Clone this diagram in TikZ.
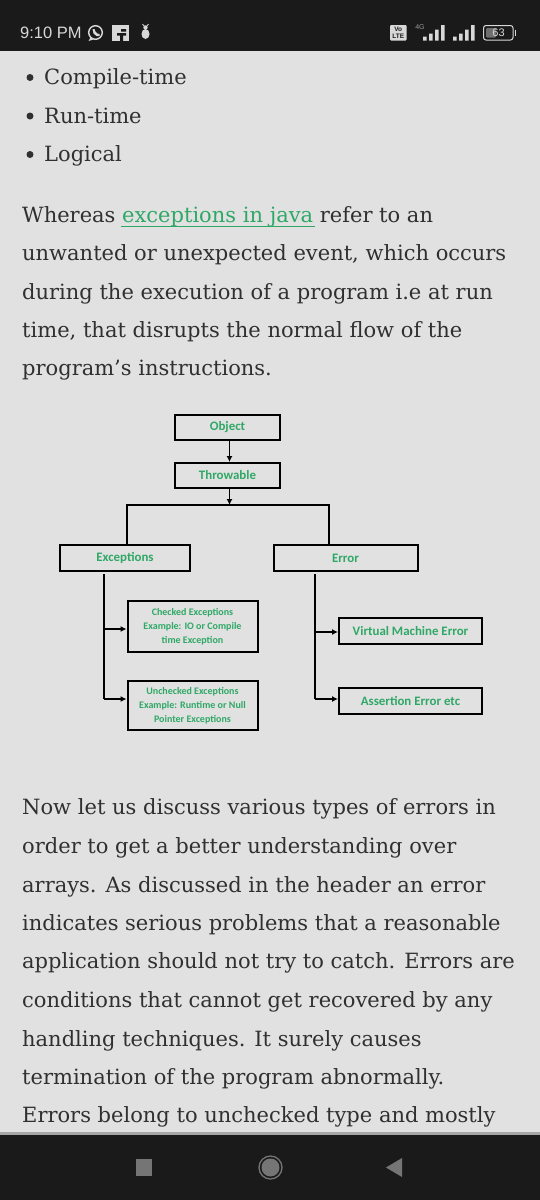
\documentclass[tikz,border=0pt]{standalone}
\usepackage{fontspec}
\usetikzlibrary{arrows.meta}
\setmainfont{DejaVu Serif}
\newfontfamily\barfont{Liberation Sans}
\newfontfamily\boxfont{Carlito}
\definecolor{pagebg}{HTML}{E1E1E1}
\definecolor{barbg}{HTML}{1A1A1A}
\definecolor{bodycol}{HTML}{303030}
\definecolor{gfg}{HTML}{2FA866}
\definecolor{barcol}{HTML}{D8D8D8}
\definecolor{navcol}{HTML}{757575}
\tikzset{
  bodyline/.style={anchor=base west,inner sep=0pt,text=bodycol,font=\fontsize{21}{24}\selectfont},
  classbox/.style={draw=black,line width=2pt,inner sep=0pt,align=center,text=gfg,font=\boxfont\bfseries\fontsize{12.9}{14}\selectfont},
  smallbox/.style={classbox,font=\boxfont\bfseries\fontsize{10}{14}\selectfont},
  link/.style={line width=2pt},
  arrowlink/.style={line width=1.2pt,-{Latex[length=6pt,width=6pt]}},
  brancharrow/.style={line width=2pt,-{Latex[length=6pt,width=6pt]}}
}
\begin{document}
\begin{tikzpicture}[x=1pt,y=-1pt]
      \useasboundingbox (0,0) rectangle (540,1200);
      \fill[pagebg] (0,0) rectangle (540,1200);
      % status bar
      \fill[barbg] (0,0) rectangle (540,51);
      \node[anchor=base west,inner sep=0pt,text=barcol,font=\barfont\fontsize{16.5}{18}\selectfont] (clock) at (20,38) {9:10 PM};
      \draw[barcol,line width=1.4pt] (95.5,32.5) circle (6.8);
      \fill[barcol] (90.5,37.5) -- (88.5,41) -- (93.5,39.5) -- cycle;
      \fill[barcol] (92.5,29) -- (94.5,29) -- (95.5,31.5) -- (97.5,33.5) -- (99.5,34) -- (99.5,36) -- (96.5,36) -- (93.5,33.5) -- cycle;
      \fill[barcol] (112,25) rectangle (129,41);
      \fill[barbg] (120,33) rectangle (123,41) (117,33) rectangle (126,35.5) (121,29) rectangle (126,31.5);
      \fill[barcol] (145.5,34) ellipse (4 and 5);
      \fill[barcol] (145.5,27.5) circle (2.2);
      \draw[barcol,line width=0.8pt] (142.5,24) -- (144.5,26.5) (148.5,24) -- (146.5,26.5);
      \fill[barcol,rounded corners=1pt] (390,25) rectangle (406.5,40.5);
      \node[inner sep=0pt,text=barbg,align=center,font=\barfont\bfseries\fontsize{6.5}{7}\selectfont] (volte) at (398.2,32.8) {Vo\\LTE};
      \node[inner sep=0pt,text=barcol!70!black,font=\barfont\fontsize{7}{7}\selectfont] (gen) at (420,27) {4G};
      \fill[barcol] (423,36.5) rectangle (426.5,40.5) (429,33.5) rectangle (432.5,40.5) (435,29.5) rectangle (438.5,40.5) (441,25) rectangle (444.5,40.5);
      \fill[barcol] (453,36.5) rectangle (456.5,40.5) (459,33.5) rectangle (462.5,40.5) (465,29.5) rectangle (468.5,40.5) (471,25) rectangle (474.5,40.5);
      \draw[barcol,rounded corners=2.5pt,line width=1pt] (483.5,25.5) rectangle (513,40);
      \fill[barcol!45!barbg,rounded corners=1pt] (486,28) rectangle (496,37.5);
      \fill[barcol] (514.5,29.5) rectangle (516,36);
      \node[inner sep=0pt,text=barcol,font=\barfont\fontsize{11}{12}\selectfont] (battery) at (498.5,33) {63};
      % bullets
      \fill[bodycol] (30,77.5) circle (3.5);
      \fill[bodycol] (30,116) circle (3.5);
      \fill[bodycol] (30,154.5) circle (3.5);
      \node[bodyline] (bulletA) at (44,84) {Compile-time};
      \node[bodyline] (bulletB) at (44,123) {Run-time};
      \node[bodyline] (bulletC) at (44,161) {Logical};
      % first paragraph
      \node[bodyline] (paraA) at (22,222) {Whereas \textcolor{gfg}{exceptions in java} refer to an};
      \draw[gfg,line width=1pt] (121,226) -- (315,226);
      \node[bodyline] (paraB) at (22,260) {unwanted or unexpected event, which occurs};
      \node[bodyline] (paraC) at (22,299) {during the execution of a program i.e at run};
      \node[bodyline] (paraD) at (22,337) {time, that disrupts the normal flow of the};
      \node[bodyline] (paraE) at (22,375) {program’s instructions.};
      % hierarchy
      \node[classbox,minimum width=105,minimum height=25] (object) at (227.5,427.5) {Object};
      \node[classbox,minimum width=105,minimum height=25] (throwable) at (227.5,475.5) {Throwable};
      \node[classbox,minimum width=130,minimum height=26] (exceptions) at (125,558) {Exceptions};
      \node[classbox,minimum width=144,minimum height=26] (error) at (345.5,558) {Error};
      \node[smallbox,minimum width=130,minimum height=51] (checked) at (192.5,626.5) {Checked Exceptions\\Example: IO or Compile\\time Exception};
      \node[smallbox,minimum width=130,minimum height=49] (unchecked) at (192.5,705.5) {Unchecked Exceptions\\Example: Runtime or Null\\Pointer Exceptions};
      \node[classbox,minimum width=143,minimum height=26] (vmerror) at (410.5,631) {Virtual Machine Error};
      \node[classbox,minimum width=143,minimum height=26] (assertion) at (410.5,701) {Assertion Error etc};
      \coordinate (busleft) at (127,505);
      \coordinate (busright) at (329,505);
      \coordinate (busmid) at (229.5,505);
      \coordinate (trunkleft) at (103.5,574);
      \coordinate (trunkright) at (314.5,574);
      \draw[arrowlink] (object.south -| busmid) -- (throwable.north -| busmid);
      \draw[arrowlink] (throwable.south -| busmid) -- (busmid);
      \draw[link] (exceptions.north -| busleft) -- (busleft) -- (busright) -- (error.north -| busright);
      \draw[link] (trunkleft) -- (trunkleft |- 699,699);
      \draw[brancharrow] (trunkleft |- 629,629) -- (checked.west |- 629,629);
      \draw[brancharrow] (trunkleft |- 699,699) -- (unchecked.west |- 699,699);
      \draw[link] (trunkright) -- (trunkright |- 699,699);
      \draw[brancharrow] (trunkright |- 632,632) -- (vmerror.west |- 632,632);
      \draw[brancharrow] (trunkright |- 699,699) -- (assertion.west |- 699,699);
      % second paragraph
      \node[bodyline] (paraF) at (22,814) {Now let us discuss various types of errors in};
      \node[bodyline] (paraG) at (22,853) {order to get a better understanding over};
      \node[bodyline] (paraH) at (22,892) {arrays. As discussed in the header an error};
      \node[bodyline] (paraI) at (22,930) {indicates serious problems that a reasonable};
      \node[bodyline] (paraJ) at (22,968) {application should not try to catch. Errors are};
      \node[bodyline] (paraK) at (22,1007) {conditions that cannot get recovered by any};
      \node[bodyline] (paraL) at (22,1046) {handling techniques. It surely causes};
      \node[bodyline] (paraM) at (22,1084) {termination of the program abnormally.};
      \node[bodyline] (paraN) at (22,1122) {Errors belong to unchecked type and mostly};
      % navigation bar
      \fill[black!35] (0,1132) rectangle (540,1135);
      \fill[barbg] (0,1135) rectangle (540,1200);
      \fill[navcol] (136,1159) rectangle (152,1176);
      \fill[navcol] (270.5,1167.5) circle (9);
      \draw[navcol,line width=1.3pt] (270.5,1167.5) circle (11.5);
      \fill[navcol] (386,1167.5) -- (402,1158) -- (402,1177) -- cycle;
    \end{tikzpicture}
\end{document}
